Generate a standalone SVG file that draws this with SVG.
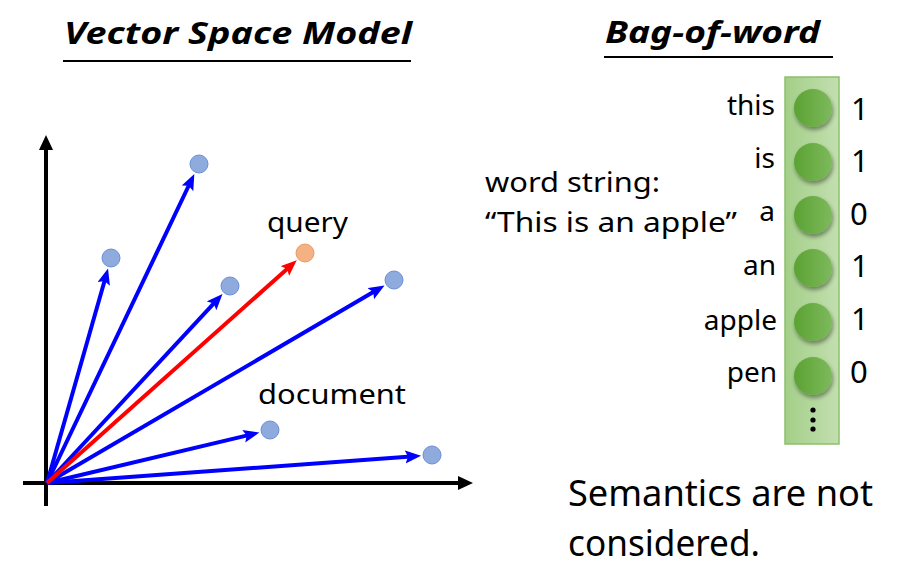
<svg xmlns="http://www.w3.org/2000/svg" width="905" height="574" viewBox="0 0 905 574">
<style>
.t{font-family:"Noto Sans","Open Sans","Liberation Sans",sans-serif;fill:#000}
.title{font-size:30px;font-weight:bold;font-style:italic}
.lbl{font-size:28px}
.num{font-size:31px}
.big{font-size:37px}
.vec{stroke:#0000ff;stroke-width:4;fill:none;marker-end:url(#ab)}
.qv{stroke:#ff0000;stroke-width:4;fill:none;marker-end:url(#ar)}
.ax{stroke:#000;stroke-width:4;fill:none;marker-end:url(#ak)}
.doc{fill:#8faadc;stroke:#6a8fd6;stroke-width:1}
.qry{fill:#f4b183;stroke:#ed9a62;stroke-width:1}
.bit{fill:url(#gc);filter:url(#sh)}
</style>
<defs>
<marker id="ab" markerUnits="userSpaceOnUse" markerWidth="18" markerHeight="14" refX="6" refY="6.5" orient="auto"><path d="M0,0 L16,6.5 L0,13 L3,6.5 Z" fill="#0000ff"/></marker>
<marker id="ar" markerUnits="userSpaceOnUse" markerWidth="18" markerHeight="14" refX="6" refY="6.5" orient="auto"><path d="M0,0 L16,6.5 L0,13 L3,6.5 Z" fill="#ff0000"/></marker>
<marker id="ak" markerUnits="userSpaceOnUse" markerWidth="18" markerHeight="16" refX="4" refY="7" orient="auto"><path d="M0,0 L15,7 L0,14 Z" fill="#000"/></marker>
<linearGradient id="gr" x1="0" y1="0" x2="1" y2="0"><stop offset="0" stop-color="#a3cf88"/><stop offset="1" stop-color="#c3dfb0"/></linearGradient>
<linearGradient id="gc" x1="0" y1="0" x2="1" y2="0"><stop offset="0" stop-color="#5ba233"/><stop offset="1" stop-color="#7db95c"/></linearGradient>
<filter id="sh" x="-30%" y="-30%" width="160%" height="170%"><feDropShadow dx="1" dy="3" stdDeviation="2" flood-color="#000" flood-opacity="0.4"/></filter>
</defs>

<g id="titles">
<text class="t title" x="64" y="44" textLength="348" lengthAdjust="spacingAndGlyphs">Vector Space Model</text>
<line x1="63" y1="61" x2="411" y2="61" stroke="#000" stroke-width="2"/>
<text class="t title" x="605" y="43" textLength="215" lengthAdjust="spacingAndGlyphs">Bag-of-word</text>
<line x1="604" y1="57" x2="833" y2="57" stroke="#000" stroke-width="2"/>
</g>

<g id="axes">
<line class="ax" x1="46" y1="506" x2="46" y2="146"/>
<line class="ax" x1="23" y1="483" x2="462" y2="483"/>
</g>

<g id="connectors">
<line class="vec" x1="47" y1="483" x2="105.3" y2="278.2"/>
<line class="vec" x1="47" y1="483" x2="190.0" y2="183.0"/>
<line class="vec" x1="47" y1="483" x2="215.7" y2="301.4"/>
<line class="vec" x1="47" y1="483" x2="375.9" y2="290.6"/>
<line class="vec" x1="47" y1="483" x2="249.6" y2="434.9"/>
<line class="vec" x1="47" y1="483" x2="411.1" y2="456.5"/>
<line class="qv" x1="47" y1="483" x2="289.3" y2="267.0"/>
</g>

<g id="docs">
<circle class="doc" cx="111" cy="258" r="9"/>
<circle class="doc" cx="199" cy="164" r="9"/>
<circle class="doc" cx="230" cy="286" r="9"/>
<circle class="doc" cx="394" cy="280" r="9"/>
<circle class="doc" cx="270" cy="430" r="9"/>
<circle class="doc" cx="432" cy="455" r="9"/>
</g>
<g id="query">
<circle class="qry" cx="305" cy="253" r="9"/>
<text class="t lbl" x="267" y="232" textLength="81" lengthAdjust="spacingAndGlyphs">query</text>
</g>
<g id="document-label">
<text class="t lbl" x="258" y="404" textLength="148" lengthAdjust="spacingAndGlyphs">document</text>
</g>

<g id="word-string">
<text class="t lbl" x="485" y="192" textLength="175" lengthAdjust="spacingAndGlyphs">word string:</text>
<text class="t lbl" x="485" y="232" textLength="252" lengthAdjust="spacingAndGlyphs">“This is an apple”</text>
</g>

<g id="bag-vector">
<rect x="785" y="77" width="54" height="367" fill="url(#gr)" stroke="#8cc06c" stroke-width="1.5"/>
<circle class="bit" cx="813" cy="108" r="19"/>
<circle class="bit" cx="813" cy="162" r="19"/>
<circle class="bit" cx="813" cy="215" r="19"/>
<circle class="bit" cx="813" cy="268" r="19"/>
<circle class="bit" cx="813" cy="322" r="19"/>
<circle class="bit" cx="813" cy="376" r="19"/>
<circle cx="813" cy="410" r="2.6" fill="#000"/>
<circle cx="813" cy="420" r="2.6" fill="#000"/>
<circle cx="813" cy="429" r="2.6" fill="#000"/>
</g>

<g id="words" text-anchor="end">
<text class="t lbl" x="775" y="115">this</text>
<text class="t lbl" x="775" y="168">is</text>
<text class="t lbl" x="775" y="221">a</text>
<text class="t lbl" x="776" y="275">an</text>
<text class="t lbl" x="777" y="330">apple</text>
<text class="t lbl" x="777" y="382">pen</text>
</g>

<g id="counts">
<text class="t num" x="851" y="120">1</text>
<text class="t num" x="851" y="172">1</text>
<text class="t num" x="850" y="225">0</text>
<text class="t num" x="851" y="277">1</text>
<text class="t num" x="851" y="330">1</text>
<text class="t num" x="850" y="383">0</text>
</g>

<g id="note">
<text class="t big" x="568" y="506" textLength="305" lengthAdjust="spacingAndGlyphs">Semantics are not</text>
<text class="t big" x="568" y="556" textLength="192" lengthAdjust="spacingAndGlyphs">considered.</text>
</g>
</svg>
